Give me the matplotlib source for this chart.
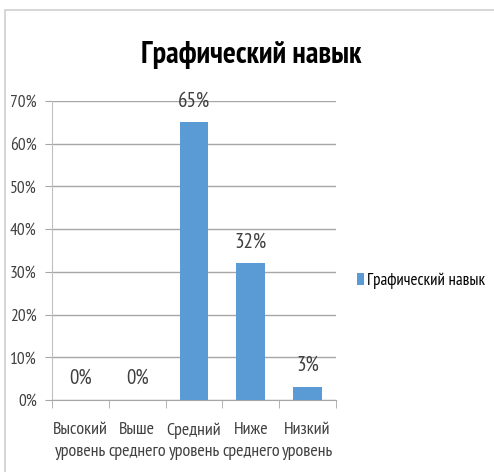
import matplotlib
matplotlib.use("Agg")
import matplotlib.pyplot as plt
from matplotlib.patches import Rectangle

# data
categories = ["Высокий\nуровень", "Выше\nсреднего", "Средний\nуровень", "Ниже\nсреднего", "Низкий\nуровень"]
values = [0.0, 0.0, 0.65, 0.32, 0.03]
series_name = "Графический навык"
title = "Графический навык"
yticks = [0.0, 0.1, 0.2, 0.3, 0.4, 0.5, 0.6, 0.7]

plt.rcParams['font.family'] = ['PT Sans Narrow', 'Carlito', 'DejaVu Sans']

fig = plt.figure(figsize=(4.94, 4.72), dpi=100)
ax = fig.add_axes([52/494, 1 - 400/472, 284/494, 299/472])

# chart frame, only top and left edges fall inside the picture
fig.patches.append(Rectangle((5/494, -0.1), 1.2, 1 - 10/472 + 0.1, transform=fig.transFigure,
                             fill=False, edgecolor="#d0d0d0", lw=1.2))

x = list(range(len(categories)))
bars = ax.bar(x, values, width=0.51, color="#5b9bd5", label=series_name, zorder=3)
for b, v in zip(bars, values):
    ax.annotate(f"{v:.0%}", (b.get_x() + b.get_width()/2, v), xytext=(0, 11.5),
                textcoords="offset points", ha="center", va="baseline", fontsize=15, color="#404040")

ax.set_xlim(-0.5, len(categories) - 0.5)
ax.set_ylim(0, 0.7)
ax.set_yticks(yticks)
ax.set_yticklabels([f"{t:.0%}" for t in yticks])
ax.yaxis.grid(True, color="#a6a6a6", lw=1, zorder=0)
ax.set_xticks(x)
ax.set_xticklabels(categories, fontsize=13, color="#404040", linespacing=1.45)
ax.set_xticks([i - 0.5 for i in range(len(categories) + 1)], minor=True)
ax.tick_params(axis="x", which="major", length=0, pad=16)
ax.tick_params(axis="x", which="minor", length=6, color="#a6a6a6")
ax.tick_params(axis="y", length=5, color="#a6a6a6", labelsize=12.5, labelcolor="#404040", pad=6)
for s in ["top", "right"]:
    ax.spines[s].set_visible(False)
ax.spines["left"].set_color("#c0c0c0")
ax.spines["bottom"].set_color("#a6a6a6")

fig.text(251.5/494, 1 - 63/472, title, ha="center", va="baseline", fontsize=22,
         fontweight="bold", color="black")

fig.legend(handles=[bars], labels=[series_name], loc="center left", bbox_to_anchor=(357/494, 1 - 281/472),
           frameon=False, fontsize=12.2, handlelength=0.4, handleheight=0.7, handletextpad=0.2,
           borderpad=0, borderaxespad=0)

fig.savefig("out.png", dpi=100)
